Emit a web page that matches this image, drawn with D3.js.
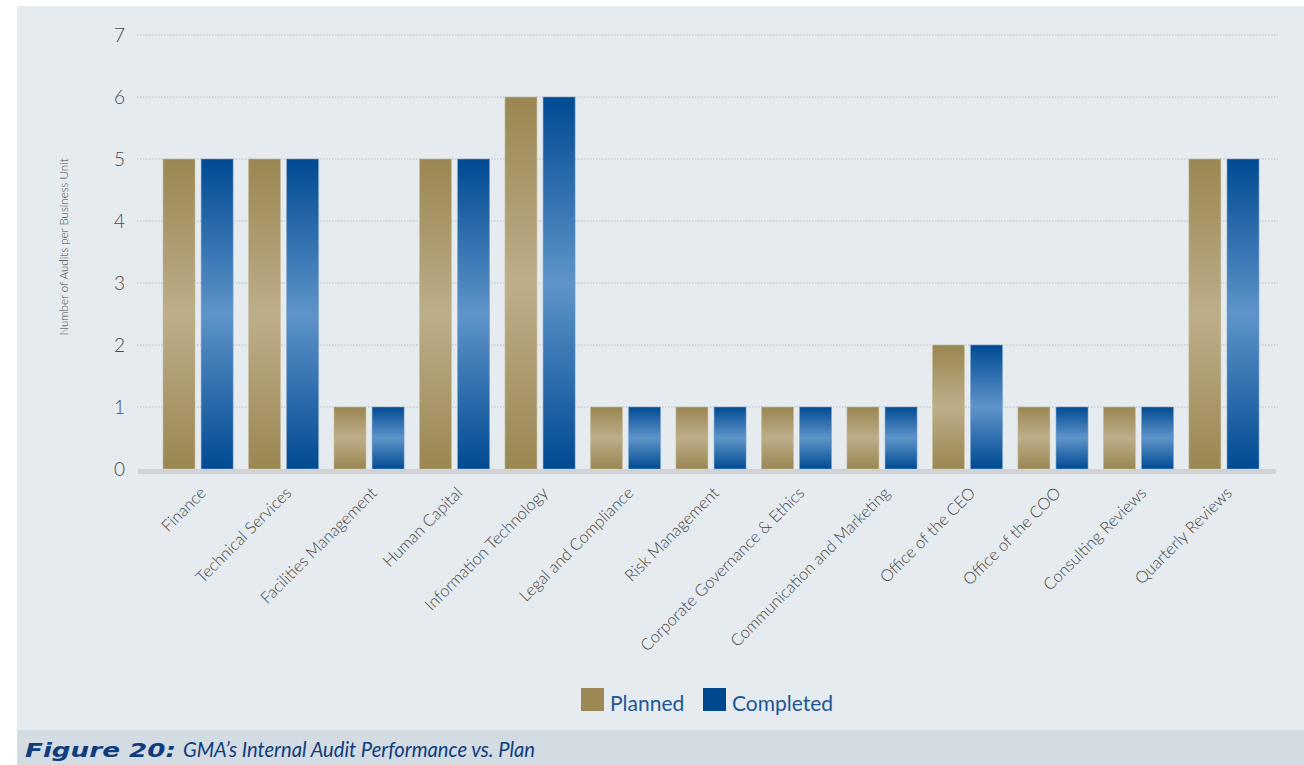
<!DOCTYPE html>
<html>
<head>
<meta charset="utf-8">
<script src="https://cdn.jsdelivr.net/npm/d3@7"></script>
<style>
    body { margin: 0; background: #fff; }
    svg { display: block; }
</style>
</head>
<body>
<div class="graphContainer"></div>
<script>
// Chart data
const categories = [
    'Finance', 'Technical Services', 'Facilities Management', 'Human Capital',
    'Information Technology', 'Legal and Compliance', 'Risk Management',
    'Corporate Governance & Ethics', 'Communication and Marketing',
    'Office of the CEO', 'Office of the COO', 'Consulting Reviews', 'Quarterly Reviews'
];
const planned = [5, 5, 1, 5, 6, 1, 1, 1, 1, 2, 1, 1, 5];
const completed = [5, 5, 1, 5, 6, 1, 1, 1, 1, 2, 1, 1, 5];
const seriesNames = ['Planned', 'Completed'];
const yTicks = [0, 1, 2, 3, 4, 5, 6, 7];

const W = 1304, H = 765;

const svg = d3.select('.graphContainer')
    .append('svg')
    .attr('width', W)
    .attr('height', H);

// Gradients: dark at the ends, light in the middle of each bar
const defs = svg.append('defs');
const gradients = [
    { id: 'gPlanned', dark: '#9a8651', light: '#bdae8a' },
    { id: 'gCompleted', dark: '#004a92', light: '#5f94ca' }
];
gradients.forEach(g => {
    const lg = defs.append('linearGradient')
        .attr('id', g.id)
        .attr('x1', 0).attr('y1', 0).attr('x2', 0).attr('y2', 1);
    lg.append('stop').attr('offset', '0%').attr('stop-color', g.dark);
    lg.append('stop').attr('offset', '50%').attr('stop-color', g.light);
    lg.append('stop').attr('offset', '100%').attr('stop-color', g.dark);
});

// Panel background
svg.append('rect')
    .attr('x', 17).attr('y', 6)
    .attr('width', W - 17).attr('height', 724)
    .attr('fill', '#e6ebef');

// Caption band
svg.append('rect')
    .attr('x', 17).attr('y', 730)
    .attr('width', W - 17).attr('height', H - 730)
    .attr('fill', '#d3dbe3');

// Scales
const x0 = d3.scaleBand()
    .domain(categories)
    .range([163, 1259])
    .paddingInner(0.18)
    .paddingOuter(0);

const x1 = d3.scaleBand()
    .domain(seriesNames)
    .range([0, x0.bandwidth()])
    .paddingInner(0.16);

const y = d3.scaleLinear()
    .domain([0, 7])
    .range([469, 35]);

// Gridlines
svg.append('g')
    .selectAll('line')
    .data(yTicks.filter(d => d > 0))
    .join('line')
    .attr('x1', 137).attr('x2', 1278)
    .attr('y1', d => y(d)).attr('y2', d => y(d))
    .attr('stroke', '#b9bdc2')
    .attr('stroke-width', 1)
    .attr('stroke-dasharray', '1.5,1.5');

// Y axis
const yAxis = svg.append('g')
    .attr('transform', 'translate(125,0)')
    .call(d3.axisLeft(y).tickValues(yTicks).tickFormat(d3.format('d')).tickSize(0).tickPadding(0));
yAxis.select('.domain').remove();
yAxis.selectAll('text')
    .attr('font-family', 'Lato, sans-serif')
    .attr('font-weight', 300)
    .attr('font-size', 19)
    .attr('fill', '#4a4a4a');

// Y axis title
svg.append('text')
    .attr('transform', `translate(68,${247}) rotate(-90)`)
    .attr('text-anchor', 'middle')
    .attr('font-family', 'Lato, sans-serif')
    .attr('font-weight', 300)
    .attr('font-size', 11.5)
    .attr('fill', '#444')
    .text('Number of Audits per Business Unit');

// Bars
const rows = categories.map((c, i) => ({ cat: c, values: [planned[i], completed[i]] }));
const groups = svg.append('g')
    .selectAll('g')
    .data(rows)
    .join('g')
    .attr('transform', d => `translate(${x0(d.cat)},0)`);

groups.selectAll('rect')
    .data(d => d.values.map((v, j) => ({ key: seriesNames[j], value: v, j })))
    .join('rect')
    .attr('x', d => x1(d.key))
    .attr('y', d => y(d.value))
    .attr('width', x1.bandwidth())
    .attr('height', d => y(0) - y(d.value))
    .attr('fill', d => `url(#${gradients[d.j].id})`)
    .attr('stroke', d => d.j === 0 ? '#c9bea0' : '#7ea6d0')
    .attr('stroke-width', 0.6);

// Baseline
svg.append('rect')
    .attr('x', 138).attr('y', 469)
    .attr('width', 1138).attr('height', 5)
    .attr('fill', '#d0d2d5');

// X labels
const xAxis = svg.append('g')
    .attr('transform', 'translate(0,469)')
    .call(d3.axisBottom(x0).tickSize(0).tickPadding(0));
xAxis.select('.domain').remove();
xAxis.selectAll('text')
    .attr('font-family', 'Lato, sans-serif')
    .attr('font-weight', 300)
    .attr('font-size', 16.4)
    .attr('fill', '#444')
    .attr('text-anchor', 'end')
    .attr('dy', 0)
    .attr('transform', 'translate(9,25) rotate(-45)');

// Legend
const legendColors = ['#9c8855', '#00498f'];
const legendX = [581, 703];
seriesNames.forEach((name, j) => {
    svg.append('rect')
        .attr('x', legendX[j]).attr('y', 688)
        .attr('width', 23).attr('height', 23)
        .attr('fill', legendColors[j]);
    svg.append('text')
        .attr('x', legendX[j] + 29).attr('y', 711)
        .attr('font-family', 'Lato, sans-serif')
        .attr('font-size', 21)
        .attr('fill', '#1c5797')
        .text(name);
});

// Caption
svg.append('text')
    .attr('x', 25).attr('y', 757)
    .attr('font-family', '"DejaVu Sans", sans-serif')
    .attr('font-style', 'italic')
    .attr('font-weight', 700)
    .attr('font-size', 19.5)
    .attr('fill', '#0f3c7c')
    .attr('textLength', 151)
    .attr('lengthAdjust', 'spacingAndGlyphs')
    .text('Figure 20:');
svg.append('text')
    .attr('x', 183).attr('y', 757)
    .attr('font-family', 'Lato, sans-serif')
    .attr('font-style', 'italic')
    .attr('font-weight', 400)
    .attr('font-size', 20.5)
    .attr('fill', '#0f3c7c')
    .attr('textLength', 352)
    .attr('lengthAdjust', 'spacingAndGlyphs')
    .text('GMA\u2019s Internal Audit Performance vs. Plan');
</script>
</body>
</html>
